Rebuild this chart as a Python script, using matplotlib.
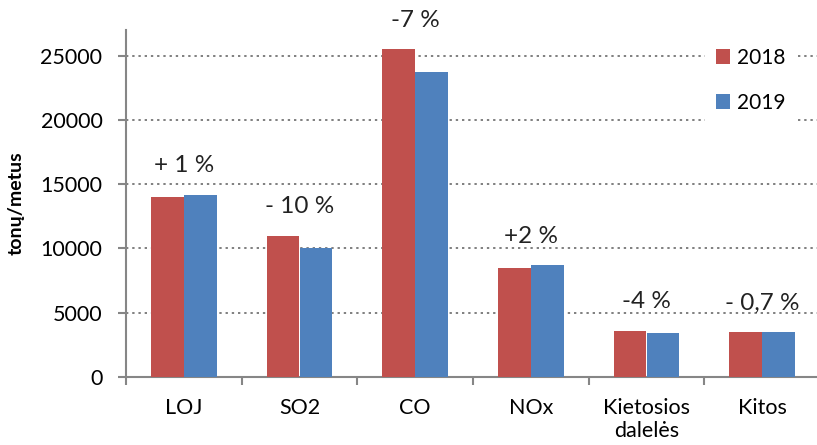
import numpy as np
import matplotlib.pyplot as plt
from matplotlib.ticker import FixedLocator

# emisijos pagal teršalus, tonų/metus
categories = ['LOJ', 'SO2', 'CO', 'NOx', 'Kietosios\ndalelės', 'Kitos']
v2018 = [14000, 11000, 25500, 8500, 3600, 3500]
v2019 = [14200, 10000, 23700, 8700, 3450, 3500]
changes = ['+ 1 %', '- 10 %', '-7 %', '+2 %', '-4 %', '- 0,7 %']

plt.rcParams['font.family'] = ['Lato', 'DejaVu Sans']

fig = plt.figure(figsize=(8.17, 4.45), dpi=100)
ax = fig.add_axes([126/817, 68/445, 694/817, 347/445])

x = np.arange(len(categories))
w = 0.285
ax.bar(x - w/2, v2018, w, color='#C0504D', label='2018', zorder=3)
ax.bar(x + w/2, v2019, w, color='#4F81BD', label='2019', zorder=3)

# procentinis pokytis virš kiekvienos grupės
for i, t in enumerate(changes):
    top = max(v2018[i], v2019[i])
    ax.annotate(t, (x[i], top), xytext=(0, 21), textcoords='offset points',
                ha='center', va='center', fontsize=17.5, color='#222222',
                annotation_clip=False)

ax.set_xlim(-0.5, 5.5)
ax.set_ylim(0, 27000)
ax.set_yticks([0, 5000, 10000, 15000, 20000, 25000])
ax.set_xticks(x)
ax.set_xticklabels(categories, fontsize=15.5)
ax.xaxis.set_minor_locator(FixedLocator(np.arange(-0.5, 6, 1)))
ax.tick_params(axis='x', which='major', length=0, pad=15)
ax.tick_params(axis='x', which='minor', length=6, width=1.5, color='#868686',
               direction='out')
ax.tick_params(axis='y', length=6, width=1.5, color='#868686', labelsize=15.5,
               pad=11)

ax.yaxis.grid(True, linestyle=(0, (1.2, 2.0)), color='#7f7f7f', linewidth=1.4,
              zorder=0)
for s in ['top', 'right']:
    ax.spines[s].set_visible(False)
for s in ['left', 'bottom']:
    ax.spines[s].set_color('#868686')
    ax.spines[s].set_linewidth(1.5)

ax.set_ylabel('tonų/metus', fontsize=14, fontweight='bold')
ax.yaxis.set_label_coords(-0.146, 0.5)

leg = ax.legend(loc='upper left', bbox_to_anchor=(695/817, 1 - 27/445),
                bbox_transform=fig.transFigure, fontsize=15, frameon=True,
                edgecolor='none', facecolor='white', framealpha=1,
                handlelength=0.7, handleheight=0.7, handletextpad=0.3,
                labelspacing=1.2, borderpad=0.5, fancybox=False)
leg.set_zorder(5)

fig.savefig('out.png', dpi=100)
